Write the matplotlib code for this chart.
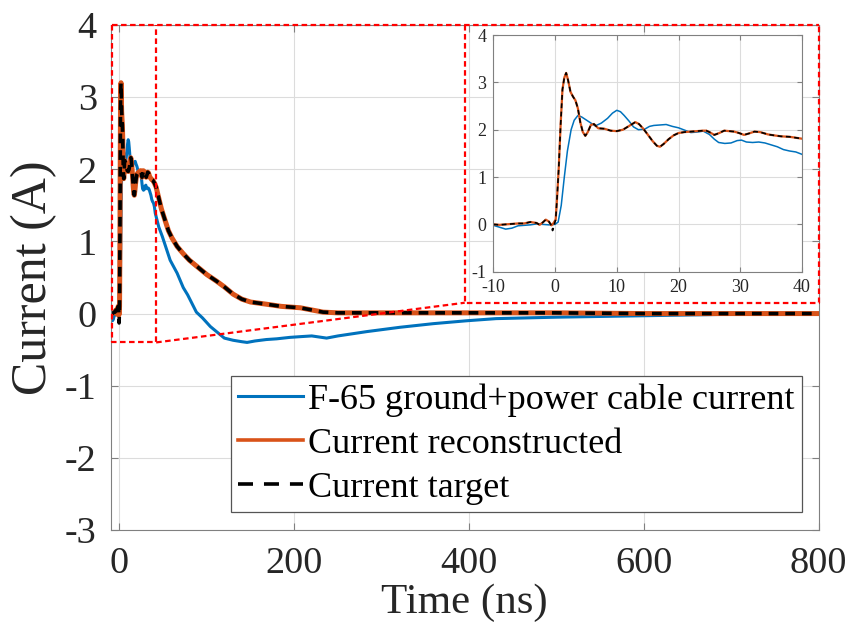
import matplotlib
matplotlib.use("Agg")
import matplotlib.pyplot as plt
from matplotlib.lines import Line2D

plt.rcParams['font.family'] = ['Liberation Serif', 'DejaVu Serif']
plt.rcParams['lines.scale_dashes'] = False
plt.rcParams['axes.unicode_minus'] = False

# ---- measured waveforms -------------------------------------------------
# target / reconstructed current (A) vs time (ns)
t_target = [-10, -9, -8, -7, -6, -5, -4, -3, -2.5, -2, -1.5, -1, -0.6, -0.4, 0.1,
            0.3, 0.6, 0.9, 1.2, 1.5, 1.8, 2.1, 2.5, 2.9, 3.3, 3.7, 4.1, 4.5, 4.9,
            5.3, 5.8, 6.3, 7, 8, 9, 10, 11, 12, 13, 13.6, 14.3, 15, 15.8, 16.5,
            17, 17.6, 18.4, 19.2, 20, 21, 22, 23, 24, 24.5, 25, 25.8, 26.6, 27.4,
            28.2, 29, 29.8, 30.6, 31.4, 32.3, 33.2, 34.5, 35.5, 36.6, 38, 40, 42,
            45, 48, 52, 56, 60, 66, 73, 80, 92, 100, 111, 120, 130, 140, 150, 168,
            185, 207, 220, 233, 250, 300, 400, 500, 600, 700, 800]
i_target = [0.0, -0.01, 0.0, 0.01, 0.02, 0.02, 0.05, 0.03, -0.01, 0.04, 0.1, 0.06,
            -0.02, -0.13, 0.1,
            0.5, 1.2, 2.1, 2.85, 3.1, 3.2, 3.05, 2.8, 2.7, 2.62, 2.45, 2.15, 1.95,
            1.87, 1.95, 2.1, 2.12, 2.03, 2.02, 1.98, 1.97, 2.0, 2.08, 2.16, 2.12,
            2.02, 1.9, 1.76, 1.66, 1.64, 1.7, 1.8, 1.88, 1.93, 1.95, 1.96, 1.97,
            1.98, 1.98, 1.95, 1.89, 1.93, 1.98, 1.97, 1.96, 1.93, 1.89, 1.92, 1.96,
            1.95, 1.9, 1.88, 1.86, 1.85, 1.81, 1.75, 1.6, 1.45, 1.3, 1.15, 1.05,
            0.93, 0.83, 0.74, 0.62, 0.54, 0.45, 0.37, 0.27, 0.2, 0.16, 0.13, 0.1,
            0.08, 0.05, 0.02, 0.01, 0.01, 0.01, 0.01, 0.0, 0.0, 0.0]
i_recon = list(i_target)
i_recon[13] = 0.0  # reconstruction has no pre-step dip

# F-65 ground + power cable current
t_f65 = [-10, -9, -8, -7, -6, -5, -4, -3, -2, -1, 0, 0.5, 1.0, 1.5, 2.0, 2.6, 3.1,
         3.7, 4.3, 5, 5.7, 6.5, 7.5, 8.5, 9.3, 10, 10.6, 11.2, 12, 12.7, 13.5,
         14.5, 15.3, 16, 17, 18, 19, 20, 21, 22, 23, 24, 25, 25.8, 26.5, 27.5,
         28.5, 29.5, 30.2, 31, 32, 33, 34, 35, 36, 37, 38, 39, 40, 41, 45, 49,
         55, 58, 66, 73, 78, 88, 95, 104, 112, 120, 130, 140, 146, 155, 168, 180,
         195, 207, 220, 237, 250, 283, 321, 359, 397, 431, 500, 550, 600, 650,
         700, 750, 800]
i_f65 = [-0.02, -0.06, -0.1, -0.08, -0.03, -0.02, -0.01, 0.01, 0.0, -0.01, 0.0,
         0.05, 0.4, 1.0, 1.55, 2.0, 2.2, 2.3, 2.27, 2.21, 2.15, 2.08, 2.14, 2.24,
         2.35, 2.41, 2.38, 2.3, 2.18, 2.06, 2.0, 2.01, 2.07, 2.09, 2.1, 2.11,
         2.07, 2.04, 1.99, 1.94, 1.95, 1.97, 1.9, 1.8, 1.73, 1.71, 1.72, 1.77,
         1.78, 1.74, 1.73, 1.74, 1.72, 1.68, 1.64, 1.58, 1.55, 1.53, 1.48, 1.39,
         1.2, 1.07, 0.85, 0.74, 0.56, 0.36, 0.26, 0.02, -0.06, -0.18, -0.26,
         -0.34, -0.37, -0.39, -0.4, -0.38, -0.36, -0.35, -0.33, -0.32, -0.31,
         -0.34, -0.31, -0.25, -0.19, -0.14, -0.10, -0.07, -0.05, -0.04, -0.03,
         -0.02, -0.01, -0.01, 0.0]

legend_labels = ['F-65 ground+power cable current', 'Current reconstructed',
                 'Current target']

main_xticks = [0, 200, 400, 600, 800]
main_yticks = [-3, -2, -1, 0, 1, 2, 3, 4]
inset_xticks = [-10, 0, 10, 20, 30, 40]
inset_yticks = [-1, 0, 1, 2, 3, 4]

C_BLUE = '#0072BD'
C_ORANGE = '#D95319'
AX_COLOR = '#262626'
GRID = '#DCDCDC'

fig = plt.figure(figsize=(8.51, 6.38), dpi=100)
ax = fig.add_axes([0.1301, 0.1693, 0.8319, 0.7915])


def style_axes(a, size, ticklen):
    for s in a.spines.values():
        s.set_color('#808080')
        s.set_linewidth(0.8)
    a.tick_params(direction='in', top=True, right=True, length=ticklen,
                  width=0.8, color='#808080', labelsize=size,
                  labelcolor=AX_COLOR)
    a.grid(True, color=GRID, linewidth=0.8)
    a.set_axisbelow(True)


style_axes(ax, 27.5, 5)
ax.tick_params(axis='x', pad=12)
ax.tick_params(axis='y', pad=10)

ax.plot(t_f65, i_f65, color=C_BLUE, lw=2.2, label=legend_labels[0])
ax.plot(t_target, i_recon, color=C_ORANGE, lw=3.6, label=legend_labels[1])
ax.plot(t_target, i_target, color='black', lw=2.6, dashes=(7, 5),
        label=legend_labels[2])

ax.set_xlim(-10, 800)
ax.set_ylim(-3, 4)
ax.set_xticks(main_xticks)
ax.set_yticks(main_yticks)
ax.set_xlabel('Time (ns)', fontsize=31, color=AX_COLOR, labelpad=2)
ax.set_ylabel('Current (A)', fontsize=36, color=AX_COLOR, labelpad=6)

# zoom region, its enlarged frame and the connecting edges
red_kw = dict(color='red', lw=1.6, dashes=(4, 2.5), clip_on=False, zorder=6)
zx0, zx1, zy0, zy1 = -8, 42, -0.4, 4
fx0, fx1, fy0, fy1 = 395, 800, 0.15, 4
ax.plot([zx0, zx0, zx1, zx1], [zy1, zy0, zy0, zy1], **red_kw)
ax.plot([zx0, fx1], [zy1, fy1], **red_kw)
ax.plot([fx0, fx0, fx1, fx1], [fy1, fy0, fy0, fy1], **red_kw)
ax.plot([zx1, fx0], [zy0, fy0], **red_kw)

handles = [Line2D([], [], color=C_BLUE, lw=2.2),
           Line2D([], [], color=C_ORANGE, lw=2.6),
           Line2D([], [], color='black', lw=2.6, dashes=(10.8, 7.9))]
leg = ax.legend(handles, legend_labels, loc='lower right',
                bbox_to_anchor=(0.9764, 0.0356), fontsize=26,
                handlelength=1.8, handletextpad=0.15, borderpad=0.2,
                labelspacing=0.3, borderaxespad=0, fancybox=False,
                framealpha=1, edgecolor='#555555')
leg.get_frame().set_linewidth(0.9)

# enlarged view of the first 40 ns
ins = fig.add_axes([0.5797, 0.5741, 0.3627, 0.371])
style_axes(ins, 13, 3.5)
ins.tick_params(pad=5)
ins.plot(t_f65, i_f65, color=C_BLUE, lw=1.1)
ins.plot(t_target, i_recon, color=C_ORANGE, lw=1.6)
ins.plot(t_target, i_target, color='black', lw=1.2, dashes=(3.5, 2.5))
ins.set_xlim(-10, 40)
ins.set_ylim(-1, 4)
ins.set_xticks(inset_xticks)
ins.set_yticks(inset_yticks)

fig.savefig('out.png', dpi=100, facecolor='white')
